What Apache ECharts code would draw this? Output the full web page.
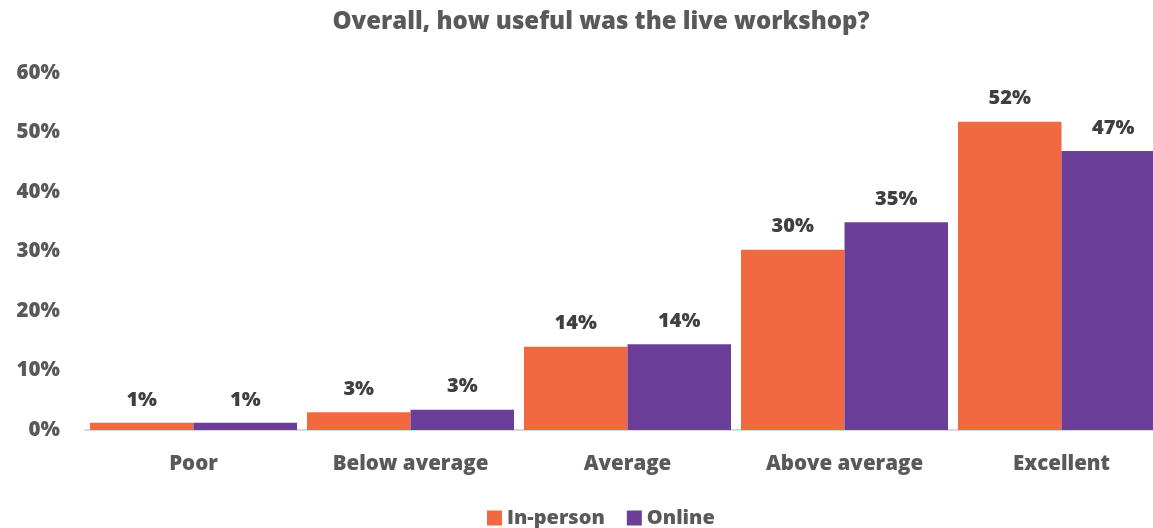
<!DOCTYPE html>
<html>
<head>
<meta charset="utf-8">
<script src="https://cdn.jsdelivr.net/npm/echarts@6/dist/echarts.min.js"></script>
<style>
  html, body { margin: 0; padding: 0; background: #ffffff; }
  #chart { width: 1153px; height: 528px; }
</style>
</head>
<body>
<div id="chart"></div>
<script>
// Ratings of the live workshop, share of respondents per answer
const categories = ['Poor', 'Below average', 'Average', 'Above average', 'Excellent'];
const inPerson = [1.2, 3.0, 14.0, 30.3, 51.8];
const online = [1.2, 3.4, 14.4, 34.9, 46.9];
const yTicks = [0, 10, 20, 30, 40, 50, 60];

const FONT = 'Open Sans';
const WEIGHT = 800;
const AXIS_TEXT = '#595959';
const LABEL_TEXT = '#404040';

const chart = echarts.init(document.getElementById('chart'));

const valueLabel = {
  show: true,
  position: 'top',
  distance: 13,
  fontFamily: FONT,
  fontWeight: WEIGHT,
  fontSize: 20,
  color: LABEL_TEXT,
  formatter: p => Math.round(p.value) + '%'
};

chart.setOption({
  backgroundColor: '#ffffff',
  animation: false,
  title: {
    text: 'Overall, how useful was the live workshop?',
    left: 596,
    textAlign: 'center',
    top: 5,
    textStyle: { fontFamily: FONT, fontWeight: WEIGHT, fontSize: 24, color: AXIS_TEXT }
  },
  legend: {
    top: 503,
    left: 482,
    itemWidth: 15,
    itemHeight: 15,
    itemGap: 22,
    icon: 'rect',
    textStyle: { fontFamily: FONT, fontWeight: WEIGHT, fontSize: 20, color: AXIS_TEXT },
    data: ['In-person', 'Online']
  },
  grid: { left: 85, top: 73, right: -17, bottom: 98, containLabel: false, outerBoundsMode: 'none' },
  xAxis: {
    type: 'category',
    data: categories,
    axisTick: { show: false },
    axisLine: { show: true, lineStyle: { color: '#D9D9D9', width: 2 } },
    axisLabel: { margin: 24, fontFamily: FONT, fontWeight: WEIGHT, fontSize: 20.5, color: AXIS_TEXT }
  },
  yAxis: {
    type: 'value',
    min: yTicks[0],
    max: yTicks[yTicks.length - 1],
    interval: yTicks[1] - yTicks[0],
    splitLine: { show: false },
    axisLine: { show: false },
    axisTick: { show: false },
    axisLabel: {
      margin: 25,
      fontFamily: FONT,
      fontWeight: WEIGHT,
      fontSize: 20.5,
      color: AXIS_TEXT,
      formatter: v => v + '%'
    }
  },
  series: [
    {
      name: 'In-person',
      type: 'bar',
      data: inPerson,
      barGap: '0%',
      barCategoryGap: '4.6%',
      itemStyle: { color: '#F26841' },
      label: valueLabel
    },
    {
      name: 'Online',
      type: 'bar',
      data: online,
      barGap: '0%',
      barCategoryGap: '4.6%',
      itemStyle: { color: '#6B3F97' },
      label: valueLabel
    }
  ]
});
</script>
</body>
</html>
